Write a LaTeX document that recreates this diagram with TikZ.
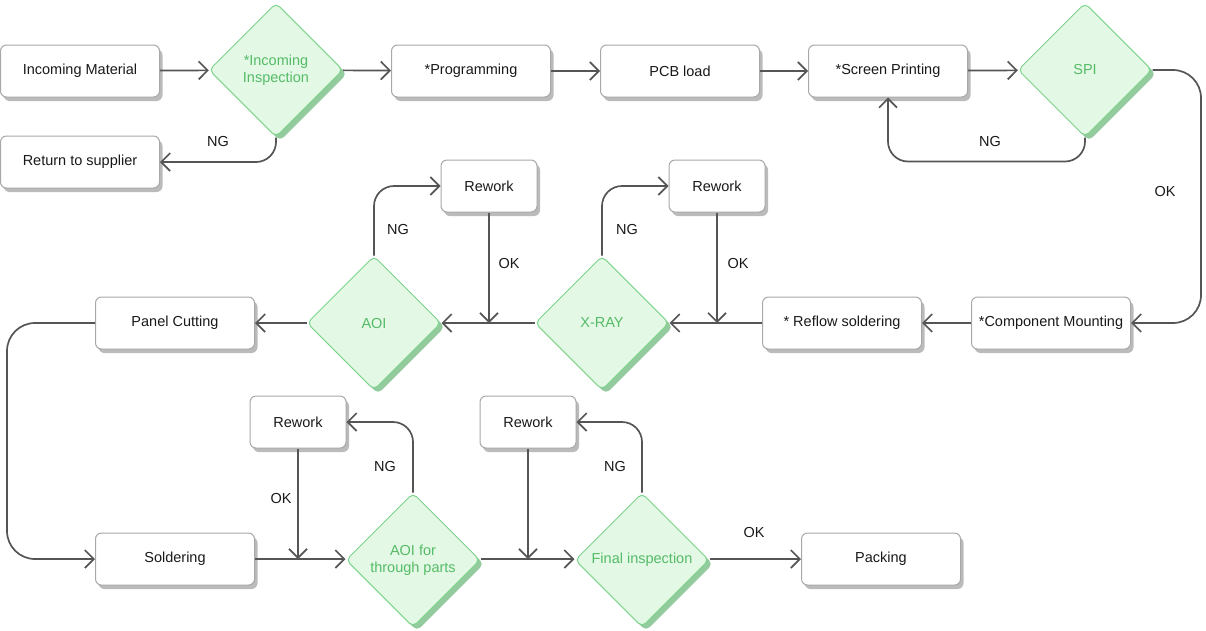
\documentclass[tikz,border=0pt]{standalone}
\usepackage{fontspec}
\setmainfont{Liberation Sans}
\usepackage{tikz}
\usetikzlibrary{shapes.geometric,shadows,arrows.meta,calc}
\definecolor{flowline}{HTML}{555555}
\definecolor{boxline}{HTML}{A8A8A8}
\definecolor{boxshade}{HTML}{BBBBBB}
\definecolor{checkfill}{HTML}{E3F9E5}
\definecolor{checkline}{HTML}{7ED48C}
\definecolor{checkshade}{HTML}{93CB9E}
\definecolor{checktext}{HTML}{55BB67}
\tikzset{
	procbox/.style={draw=boxline, line width=1pt, fill=white, rounded corners=6pt,
		minimum width=159pt, minimum height=52pt, inner sep=2pt, text=black!90,
		drop shadow={shadow xshift=3pt, shadow yshift=-4pt, fill=boxshade, opacity=1}},
	reworkbox/.style={procbox, minimum width=96pt},
	checkpt/.style={diamond, aspect=1, minimum width=134pt, minimum height=134pt,
		inner sep=0pt, draw=checkline, line width=1pt, fill=checkfill, rounded corners=5pt,
		text=checktext, align=center,
		drop shadow={shadow xshift=4pt, shadow yshift=-4pt, fill=checkshade, opacity=1}},
	flow/.style={draw=flowline, line width=1.7pt, rounded corners=20pt,
		-{Straight Barb[length=9pt,width=18pt]}},
	tag/.style={text=black!90}
}

\begin{document}
\begin{tikzpicture}[x=1pt, y=-1pt, font=\fontsize{14.5}{17}\selectfont]
	\useasboundingbox (0,0) rectangle (1206,630);
	% first row
	\node[procbox] (inmat) at (80,71) {Incoming Material};
	\node[checkpt] (incheck) at (276,70) {*Incoming\\Inspection};
	\node[procbox] (prog) at (471,71) {*Programming};
	\node[procbox] (pcb) at (680,71) {PCB load};
	\node[procbox] (screen) at (888,71) {*Screen Printing};
	\node[checkpt] (spi) at (1085,70) {SPI};
	\node[procbox] (ret) at (80,162) {Return to supplier};
	% second row
	\node[reworkbox] (rwaoi) at (489,186) {Rework};
	\node[reworkbox] (rwxray) at (717,186) {Rework};
	\node[procbox] (panel) at (175,323) {Panel Cutting};
	\node[checkpt] (aoi) at (374,323) {AOI};
	\node[checkpt] (xray) at (602,323) {X-RAY};
	\node[procbox] (reflow) at (842,323) {* Reflow soldering};
	\node[procbox] (mount) at (1051,323) {*Component Mounting};
	% third row
	\node[reworkbox] (rwtp) at (298,422) {Rework};
	\node[reworkbox] (rwfin) at (528,422) {Rework};
	\node[procbox] (solder) at (175,559) {Soldering};
	\node[checkpt] (aoitp) at (413,560) {AOI for\\through parts};
	\node[checkpt] (final) at (642,560) {Final inspection};
	\node[procbox] (pack) at (881,559) {Packing};
%
	\draw[flow] (inmat) -- (incheck);
	\draw[flow] (incheck) -- (prog);
	\draw[flow] (prog) -- (pcb);
	\draw[flow] (pcb) -- (screen);
	\draw[flow] (screen) -- (spi);
	\draw[flow] (incheck.south) |- (ret.east);
	\draw[flow] (spi.south) -- ++(0,24) -| (screen.south);
	\draw[flow, rounded corners=28pt] (spi.east) -| ([xshift=70pt]mount.east) -- (mount.east);
	\draw[flow] (mount) -- (reflow);
	\draw[flow] (reflow) -- (xray);
	\draw[flow] (xray) -- (aoi);
	\draw[flow] (aoi) -- (panel);
	\draw[flow] (aoi.north) |- (rwaoi.west);
	\draw[flow] (xray.north) |- (rwxray.west);
	\draw[flow] (rwaoi.south) -- (rwaoi.south |- aoi.east);
	\draw[flow] (rwxray.south) -- (rwxray.south |- xray.east);
	\draw[flow, rounded corners=28pt] (panel.west) -| ([xshift=-88pt]solder.west) -- (solder.west);
	\draw[flow] (solder) -- (aoitp.west |- solder.east);
	\draw[flow] (aoitp.east |- solder.east) -- (final.west |- solder.east);
	\draw[flow] (final.east |- pack.west) -- (pack.west);
	\draw[flow] (aoitp.north) |- (rwtp.east);
	\draw[flow] (final.north) |- (rwfin.east);
	\draw[flow] (rwtp.south) -- (rwtp.south |- solder.east);
	\draw[flow] (rwfin.south) -- (rwfin.south |- solder.east);
%
	\node[tag] (ng1) at (218,142) {NG};
	\node[tag] (ng2) at (990,142) {NG};
	\node[tag] (ok1) at (1165,192) {OK};
	\node[tag] (ng3) at (398,230) {NG};
	\node[tag] (ok2) at (509,263) {OK};
	\node[tag] (ng4) at (627,230) {NG};
	\node[tag] (ok3) at (738,263) {OK};
	\node[tag] (ok4) at (281,498) {OK};
	\node[tag] (ng5) at (385,466) {NG};
	\node[tag] (ng6) at (615,466) {NG};
	\node[tag] (ok5) at (754,532) {OK};
\end{tikzpicture}
\end{document}
